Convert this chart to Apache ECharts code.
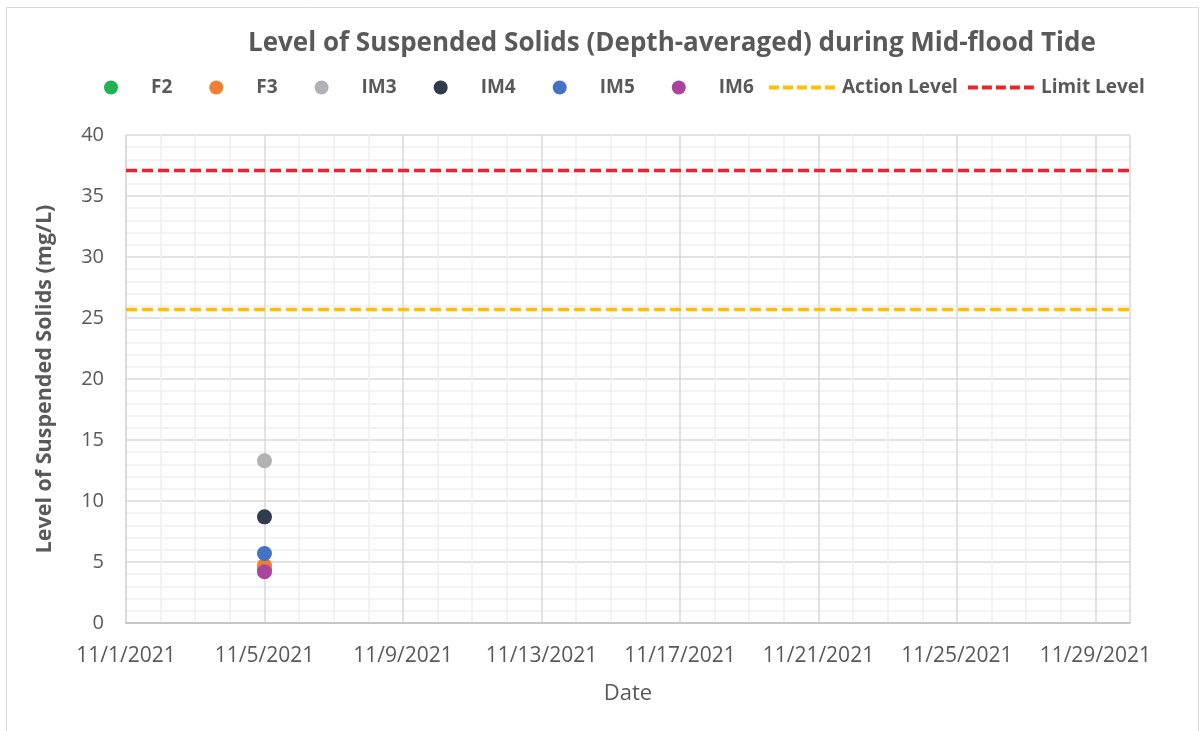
<!DOCTYPE html>
<html>
<head>
<meta charset="utf-8">
<script src="https://cdn.jsdelivr.net/npm/echarts@6/dist/echarts.min.js"></script>
<style>
  html, body { margin: 0; padding: 0; background: #fff; }
  #chart { width: 1202px; height: 731px; }
</style>
</head>
<body>
<div id="chart"></div>
<script>
// data
var sampleDates = ['2021-11-05'];
var F2 = [4.4];
var F3 = [4.7];
var IM3 = [13.3];
var IM4 = [8.7];
var IM5 = [5.7];
var IM6 = [4.2];
var levelDates = ['2021-11-01', '2021-11-30'];
var actionLevel = [25.7, 25.7];
var limitLevel = [37.1, 37.1];
var xRange = ['2021-11-01', '2021-11-30'];

var DAY = 86400000;
function ts(d) {
    var p = d.split('-');
    return Date.UTC(+p[0], +p[1] - 1, +p[2]);
}
function pairs(dates, vals) {
    return dates.map(function (d, i) { return [ts(d), vals[i]]; });
}

var grey = '#595959';
var font = 'Open Sans';

function scatter(name, vals, color) {
    return {
        name: name,
        type: 'scatter',
        symbolSize: 15,
        itemStyle: { color: color, opacity: 1 },
        data: pairs(sampleDates, vals)
    };
}
function level(name, vals, color) {
    return {
        name: name,
        type: 'line',
        symbol: 'none',
        lineStyle: { color: color, width: 3.5, type: [11, 5] },
        itemStyle: { color: color },
        data: pairs(levelDates, vals),
        z: 1
    };
}

var legendText = { fontFamily: font, fontSize: 19, fontWeight: 'bold', color: grey };

var chart = echarts.init(document.getElementById('chart'));
chart.setOption({
    backgroundColor: '#fff',
    animation: false,
    title: {
        text: 'Level of Suspended Solids (Depth-averaged) during Mid-flood Tide',
        left: 243,
        top: 26,
        textStyle: { fontFamily: font, fontSize: 26, fontWeight: 'bold', color: grey }
    },
    legend: [{
        // point series
        left: 104,
        top: 78,
        padding: 0,
        itemWidth: 14,
        itemHeight: 14,
        itemGap: 37,
        icon: 'circle',
        textStyle: Object.assign({ padding: [0, 0, 0, 28] }, legendText),
        data: ['F2', 'F3', 'IM3', 'IM4', 'IM5', 'IM6']
    }, {
        // level lines
        left: 767,
        top: 78,
        padding: 0,
        itemWidth: 68,
        itemHeight: 14,
        itemGap: 8,
        itemStyle: { opacity: 0 },
        lineStyle: { width: 4, type: [10, 4] },
        textStyle: legendText,
        data: ['Action Level', 'Limit Level']
    }],
    graphic: [{
        type: 'rect',
        shape: { x: 6.5, y: 7.5, width: 1192, height: 740 },
        style: { fill: 'none', stroke: '#d9d9d9', lineWidth: 1 },
        silent: true
    }],
    grid: { left: 126, right: 72, top: 135, bottom: 108 },
    xAxis: {
        type: 'value',
        min: ts(xRange[0]),
        max: ts(xRange[1]),
        interval: 4 * DAY,
        name: 'Date',
        nameLocation: 'middle',
        nameGap: 60,
        nameTextStyle: { fontFamily: font, fontSize: 22, color: grey },
        axisLine: { show: true, onZero: false, lineStyle: { color: '#bfbfbf', width: 1.5 } },
        axisTick: { show: false },
        axisLabel: {
            fontFamily: font, fontSize: 21, color: grey, margin: 23,
            showMaxLabel: false,
            formatter: function (v) {
                var d = new Date(v);
                return (d.getUTCMonth() + 1) + '/' + d.getUTCDate() + '/' + d.getUTCFullYear();
            }
        },
        splitLine: { show: true, lineStyle: { color: '#d9d9d9', width: 1.5 } },
        minorTick: { show: false, splitNumber: 4 },
        minorSplitLine: { show: true, lineStyle: { color: '#f0f0f0', width: 1.5 } }
    },
    yAxis: {
        type: 'value',
        min: 0,
        max: 40,
        interval: 5,
        name: 'Level of Suspended Solids (mg/L)',
        nameLocation: 'middle',
        nameGap: 70,
        nameTextStyle: { fontFamily: font, fontSize: 21.5, fontWeight: 'bold', color: grey },
        axisLine: { show: true, lineStyle: { color: '#d9d9d9', width: 1.5 } },
        axisTick: { show: false },
        axisLabel: { fontFamily: font, fontSize: 20, color: grey, margin: 22 },
        splitLine: { show: true, lineStyle: { color: '#d9d9d9', width: 1.5 } },
        minorTick: { show: false, splitNumber: 5 },
        minorSplitLine: { show: true, lineStyle: { color: '#f0f0f0', width: 1.5 } }
    },
    series: [
        scatter('F2', F2, '#1db254'),
        scatter('F3', F3, '#ef7f31'),
        scatter('IM3', IM3, '#b1b2b6'),
        scatter('IM4', IM4, '#2f3c4f'),
        scatter('IM5', IM5, '#4472c4'),
        scatter('IM6', IM6, '#aa449f'),
        level('Action Level', actionLevel, '#ffc000'),
        level('Limit Level', limitLevel, '#ee2229')
    ]
});
</script>
</body>
</html>
